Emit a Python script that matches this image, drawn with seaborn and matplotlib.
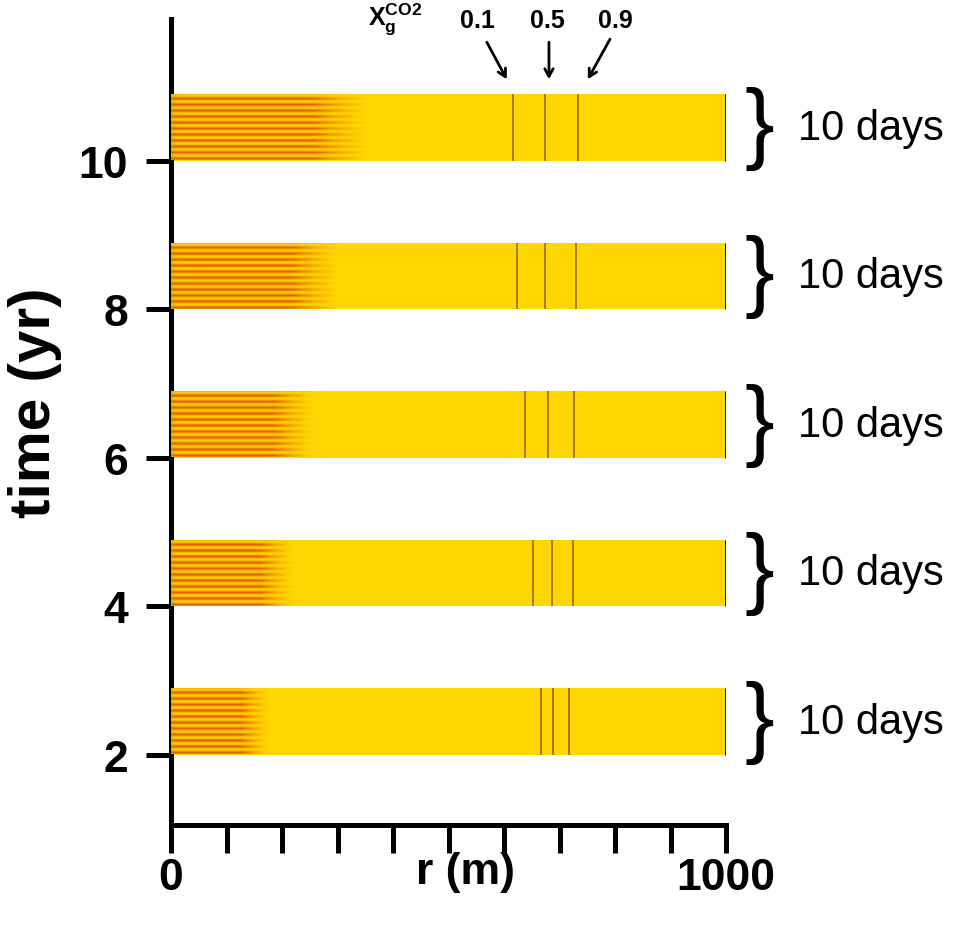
import numpy as np
import pandas as pd
import matplotlib
matplotlib.use("Agg")
import matplotlib.pyplot as plt
import seaborn as sns

# ---------------- data ----------------
times = [2, 4, 6, 8, 10]                       # yr
stripe_extent = [178, 222, 258, 304, 355]      # r (m) reached by the oscillating zone
front_01 = [666, 652, 637, 624, 616]           # r (m) where X_g^CO2 = 0.1
front_05 = [689, 686, 679, 674, 673]           # r (m) where X_g^CO2 = 0.5
front_09 = [717, 725, 726, 729, 733]           # r (m) where X_g^CO2 = 0.9
r_max = 1000
window = 0.9                                   # bar thickness in yr (10 days, stretched)
y_ticks = [2, 4, 6, 8, 10]
x_ticks = [0, 100, 200, 300, 400, 500, 600, 700, 800, 900, 1000]
x_ticklabels = ["0", "", "", "", "", "", "", "", "", "", "1000"]
front_labels = ["0.1", "0.5", "0.9"]
duration_label = "10 days"

# ---------------- style ----------------
sns.set_style("ticks")
plt.rcParams["font.family"] = ["Liberation Sans", "DejaVu Sans"]
plt.rcParams["mathtext.fontset"] = "custom"
plt.rcParams["mathtext.rm"] = "Liberation Sans"
plt.rcParams["mathtext.bf"] = "Liberation Sans:bold"
for k in ("text.color", "axes.labelcolor", "xtick.color", "ytick.color",
          "axes.edgecolor"):
    plt.rcParams[k] = "black"

YELLOW = (1.0, 0.843, 0.0)
ORANGE = (0.95, 0.58, 0.0)
RED = (0.88, 0.36, 0.03)

fig = plt.figure(figsize=(9.74, 9.28), dpi=100)
ax = fig.add_axes([171 / 974, 102 / 928, 555 / 974, 806 / 928])

df = pd.DataFrame({"center": np.array(times) + window / 2,
                   "r": [r_max] * len(times)})
sns.barplot(data=df, x="r", y="center", orient="h", native_scale=True,
            width=window / 2, color=YELLOW, saturation=1, linewidth=0,
            errorbar=None, ax=ax, zorder=2)


def stripe_image(n_stripes=11, ny=440, nx=300):
    yy = np.linspace(0, 1, ny)[:, None]
    xx = np.linspace(0, 1, nx)[None, :]
    phase = (yy * n_stripes + 0.25) % 1.0
    prof = np.exp(-((phase - 0.5) / 0.28) ** 2)
    fade = np.clip((1.0 - xx) / 0.28, 0, 1) ** 1.2
    inten = prof * fade
    y = np.array(YELLOW)[None, None, :]
    o = np.array(ORANGE)[None, None, :]
    r = np.array(RED)[None, None, :]
    a = np.clip(inten / 0.6, 0, 1)[..., None]
    b = np.clip((inten - 0.6) / 0.4, 0, 1)[..., None]
    rgb = y * (1 - a) + o * a
    rgb = rgb * (1 - b) + r * b
    # slight greenish tint at the injection edge
    g = (np.clip(1 - xx / 0.04, 0, 1) * (1 - prof))[..., None] * 0.6
    rgb = rgb * (1 - g) + np.array([0.6, 0.78, 0.15])[None, None, :] * g
    return rgb


img = stripe_image()
for t, ext in zip(times, stripe_extent):
    ax.imshow(img, extent=(0, ext, t + 0.008, t + window - 0.008),
              origin="lower", aspect="auto", interpolation="bilinear",
              zorder=3)

for fr in (front_01, front_05, front_09):
    ax.vlines(fr, times, np.array(times) + window, colors="#8a6416",
              linewidth=1.1, zorder=4)
ax.vlines([r_max] * len(times), times, np.array(times) + window,
          colors="black", linewidth=2.0, zorder=4)

ax.set_xlim(0, r_max)
ax.set_ylim(1.057, 11.912)
ax.set_xticks(x_ticks)
ax.set_xticklabels(x_ticklabels)
ax.set_yticks(y_ticks)
ax.set_yticklabels([str(v) for v in y_ticks])

sns.despine(ax=ax)
for side in ("left", "bottom"):
    ax.spines[side].set_linewidth(3.6)
    ax.spines[side].set_color("black")
ax.tick_params(axis="x", length=20, width=3.6, pad=3, labelsize=32,
               direction="out", color="black", labelcolor="black")
ax.tick_params(axis="y", length=18, width=3.6, pad=13, labelsize=32,
               direction="out", color="black", labelcolor="black")
for lab in ax.get_xticklabels() + ax.get_yticklabels():
    lab.set_fontweight("bold")

ax.set_xlabel("r (m)", fontsize=32, fontweight="bold", color="black")
ax.xaxis.set_label_coords(0.53, -0.058)
ax.xaxis.label.set_va("center")
ax.set_ylabel("time (yr)", fontsize=42, fontweight="bold", color="black")
ax.yaxis.set_label_coords(-0.245, 0.525)
ax.yaxis.label.set_va("center")

# top annotations
ax.text(404, 11.93, r"$\mathbf{X}_{\mathbf{g}}^{\mathbf{CO2}}$", fontsize=18,
        ha="center", va="center", clip_on=False)
label_pos = [(553, 11.90), (679, 11.90), (800, 11.90)]
arrow_from = [(569, 11.60), (681, 11.60), (791, 11.64)]
arrow_to = [(605, 11.10), (681, 11.10), (751, 11.10)]
for lab, lp, af, at in zip(front_labels, label_pos, arrow_from, arrow_to):
    ax.text(lp[0], lp[1], lab, fontsize=18, fontweight="bold",
            ha="center", va="center", clip_on=False)
    ax.annotate("", xy=at, xytext=af, xycoords="data",
                annotation_clip=False,
                arrowprops=dict(arrowstyle="->,head_length=0.55,head_width=0.3",
                                color="black", lw=2.0, shrinkA=0, shrinkB=0))

# braces and duration labels
for t in times:
    ax.text(1061, t + window / 2, "}", fontsize=64, ha="center",
            va="center", clip_on=False)
    ax.text(1130, t + window / 2, duration_label, fontsize=30, ha="left",
            va="center", clip_on=False)

fig.savefig("out.png", dpi=100)
